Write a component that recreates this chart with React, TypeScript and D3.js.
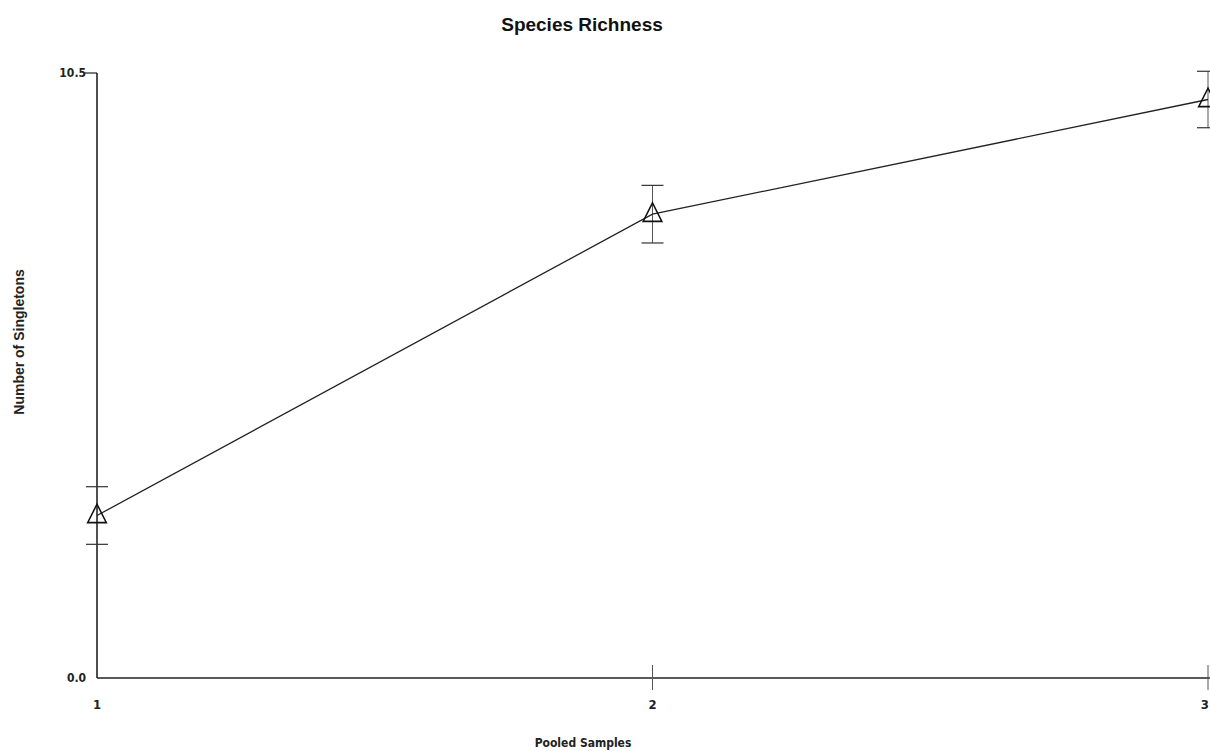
import React from "react";
import * as d3 from "d3";

const samples = [1, 2, 3];
const singletons = [2.82, 8.05, 10.04];
const errors = [0.5, 0.5, 0.49];
const yTickValues = [0, 10.5];
const titleText = "Species Richness";
const xTitle = "Pooled Samples";
const yTitle = "Number of Singletons";

export default function App() {
  const W = 1210, H = 751;
  const x = d3.scaleLinear().domain([1, 3]).range([97, 1208]);
  const y = d3.scaleLinear().domain([0, 10.5]).range([678, 73]);
  const pts = samples.map((s, i) => ({ s, v: singletons[i], e: errors[i] }));
  const line = d3.line<{ s: number; v: number }>().x(d => x(d.s)).y(d => y(d.v));
  const tri = d3.symbol().type(d3.symbolTriangle).size(150)();
  const tickFont = "'DejaVu Sans Condensed', 'Liberation Sans Narrow', Arial, sans-serif";
  return (
    <svg width={W} height={H} style={{ position: "absolute", left: 0, top: 0, background: "#fff" }}>
      <text x={582} y={31} textAnchor="middle" fontFamily="'Liberation Sans', Arial, sans-serif" fontWeight="bold" fontSize={19} fill="#111">{titleText}</text>
      {/* axes */}
      <line x1={x(1)} x2={x(1)} y1={y(10.5)} y2={y(0)} stroke="#222" strokeWidth={1.6} />
      <line x1={x(1)} x2={W} y1={y(0)} y2={y(0)} stroke="#222" strokeWidth={1.6} />
      <line x1={x(1) - 12} x2={x(1)} y1={y(10.5)} y2={y(10.5)} stroke="#222" strokeWidth={1.2} />
      {yTickValues.map(t => (
        <text key={t} x={86} y={y(t) + 4} textAnchor="end" fontFamily={tickFont} fontWeight="bold" fontSize={12} fill="#222">{t.toFixed(1)}</text>
      ))}
      {samples.map((s, i) => (
        <g key={s}>
          {s !== 1 && <line x1={x(s)} x2={x(s)} y1={y(0) - 13} y2={y(0) + 12} stroke="#555" strokeWidth={1} />}
          <text x={i === samples.length - 1 ? W - 1 : x(s)} y={709} textAnchor={i === samples.length - 1 ? "end" : "middle"} fontFamily={tickFont} fontWeight="bold" fontSize={13} fill="#222">{s}</text>
        </g>
      ))}
      <text x={583} y={747} textAnchor="middle" fontFamily={tickFont} fontWeight="bold" fontSize={12} fill="#222">{xTitle}</text>
      <text transform={`translate(24,342) rotate(-90)`} textAnchor="middle" fontFamily="'Liberation Sans', Arial, sans-serif" fontWeight="bold" fontSize={14} fill="#222">{yTitle}</text>
      {/* error bars */}
      {pts.map(p => (
        <g key={"e" + p.s} stroke="#333" strokeWidth={1.2}>
          <line x1={x(p.s)} x2={x(p.s)} y1={y(p.v + p.e)} y2={y(p.v - p.e)} strokeWidth={1} stroke="#555" />
          <line x1={x(p.s) - 11} x2={x(p.s) + 11} y1={y(p.v + p.e)} y2={y(p.v + p.e)} />
          <line x1={x(p.s) - 11} x2={x(p.s) + 11} y1={y(p.v - p.e)} y2={y(p.v - p.e)} />
        </g>
      ))}
      <path d={line(pts) || ""} fill="none" stroke="#222" strokeWidth={1.3} />
      {pts.map(p => (
        <path key={"t" + p.s} d={tri || ""} transform={`translate(${x(p.s)},${y(p.v) + 1}) scale(1,1.15)`} fill="none" stroke="#111" strokeWidth={1.5} />
      ))}
    </svg>
  );
}
